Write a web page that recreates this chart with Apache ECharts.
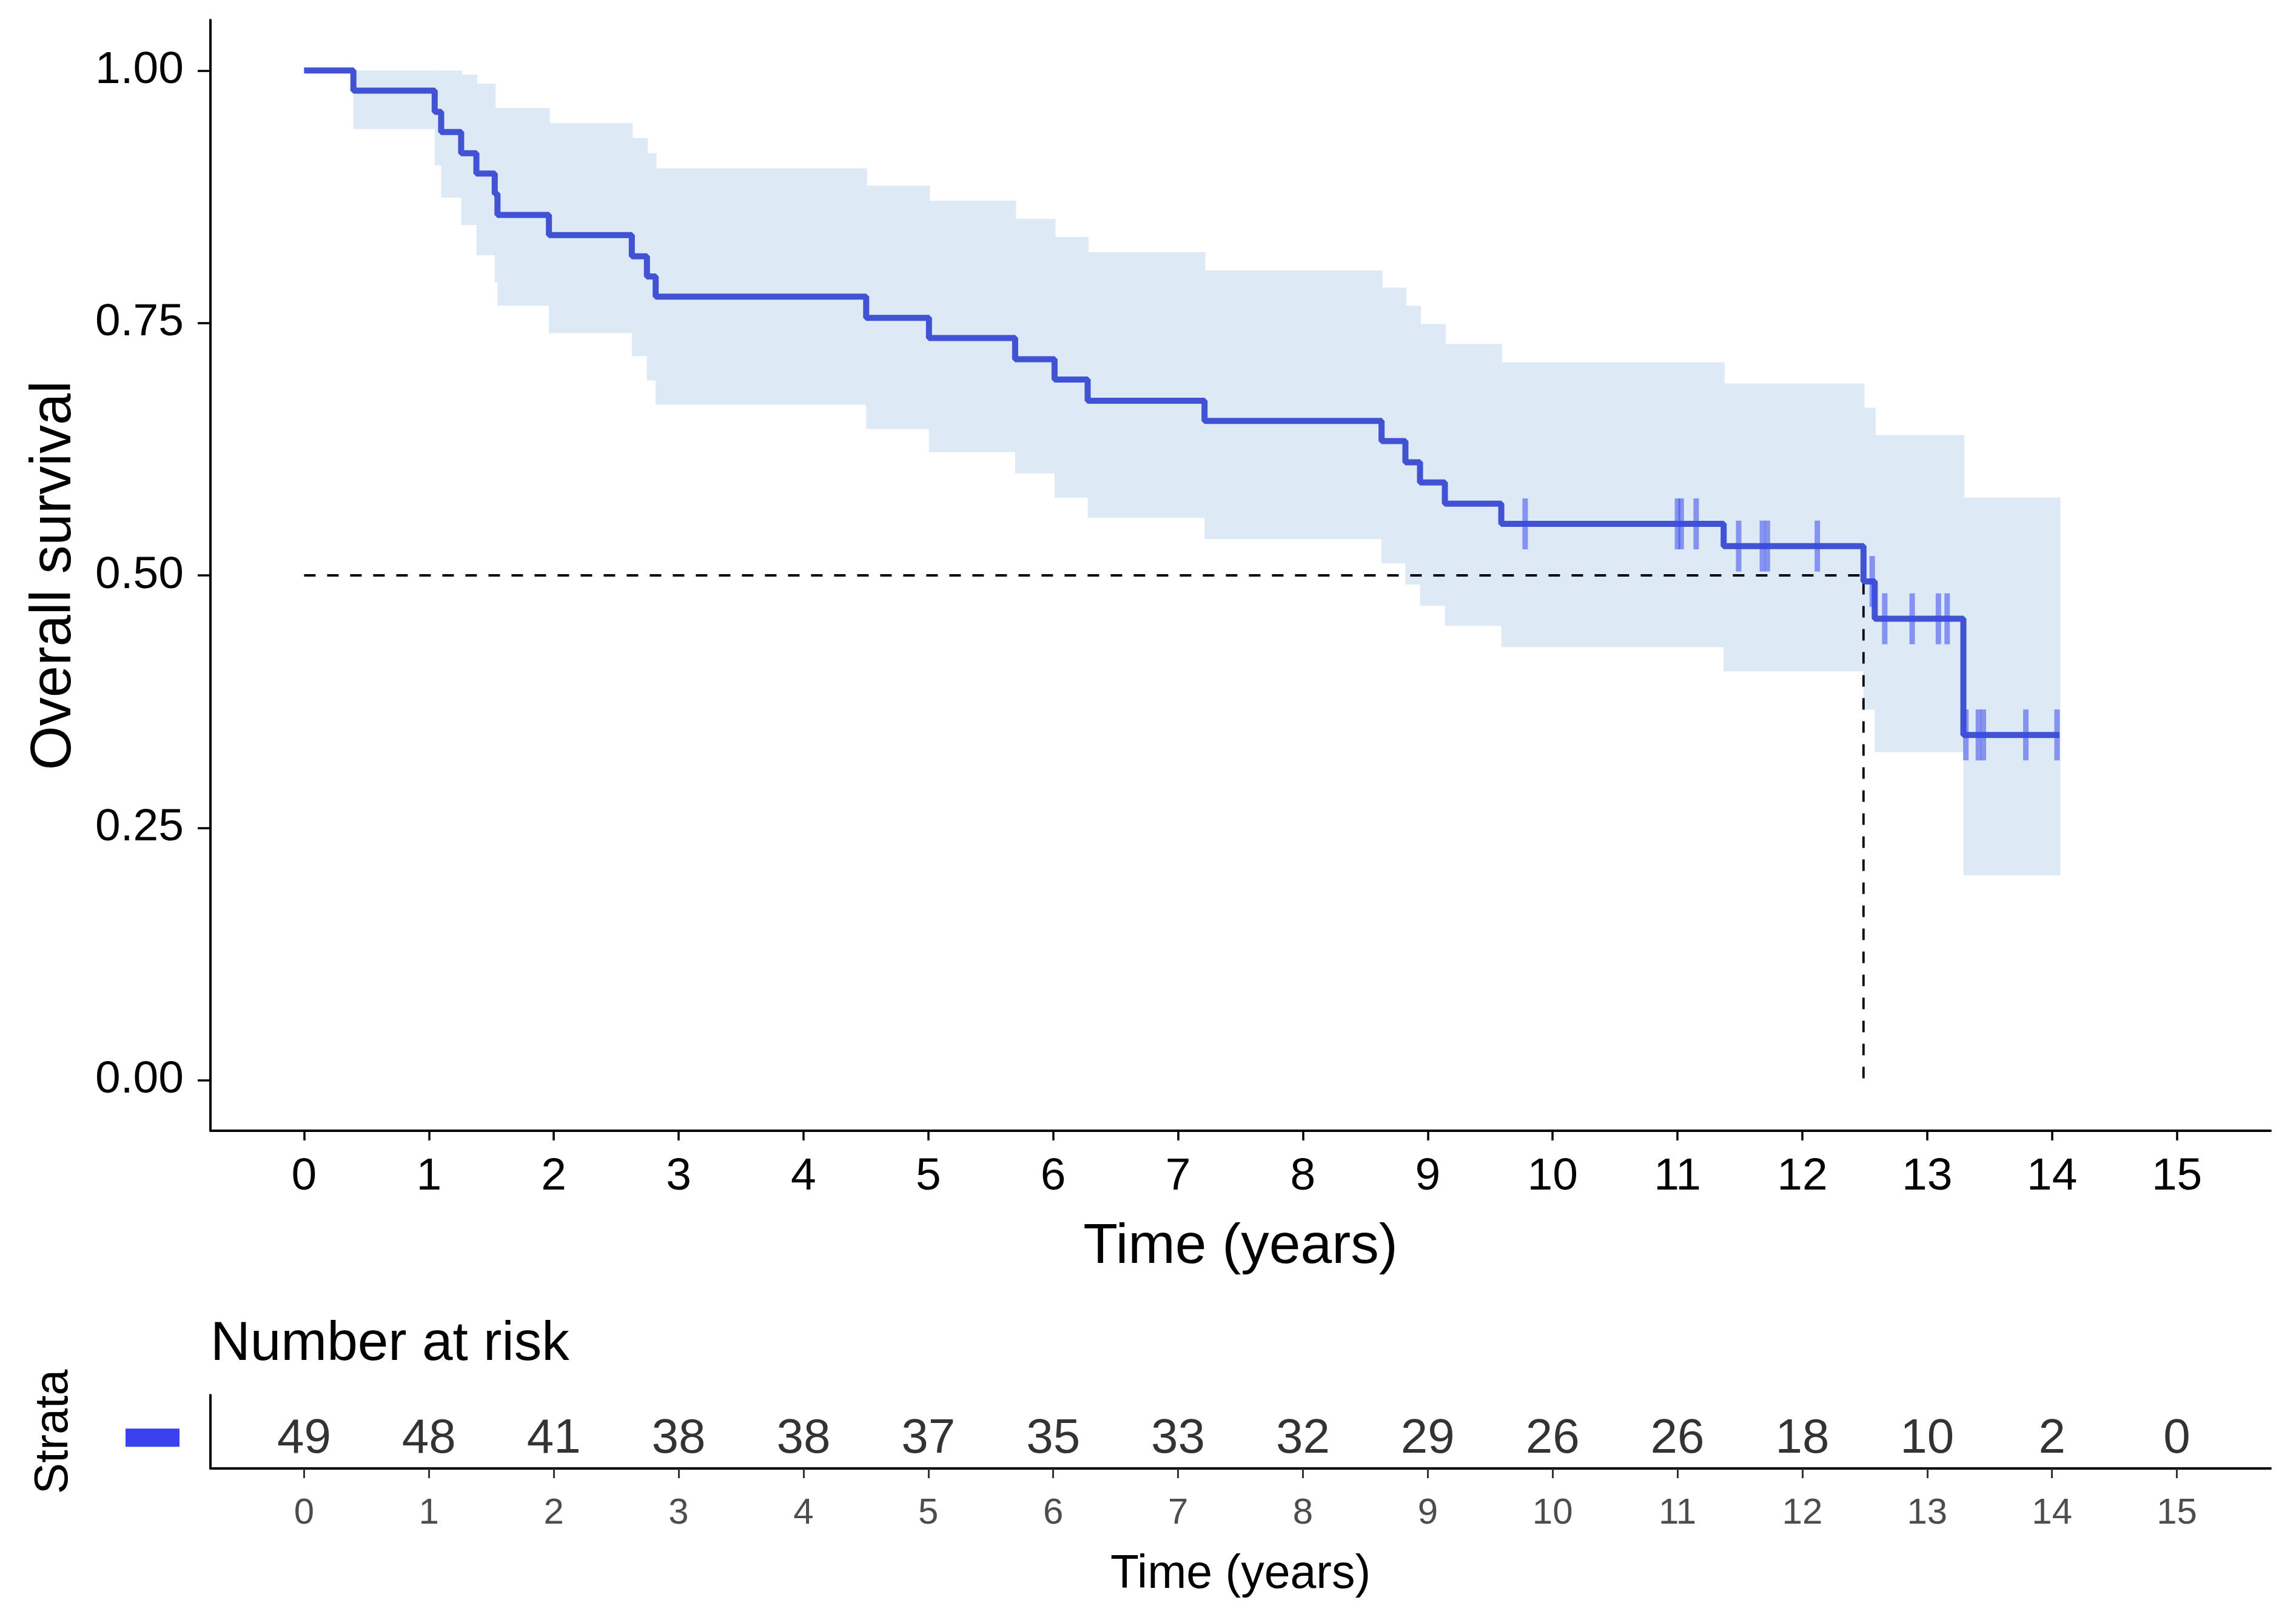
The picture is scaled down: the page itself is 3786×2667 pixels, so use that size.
<!DOCTYPE html>
<html>
<head>
<meta charset="utf-8">
<script src="https://cdn.jsdelivr.net/npm/echarts@6/dist/echarts.min.js"></script>
<style>
html,body{margin:0;padding:0;background:#fff;}
#chart{width:3786px;height:2667px;}
</style>
</head>
<body>
<div id="chart"></div>
<script>
// ---- data ----
const kmTime = [0, 0.395, 1.046, 1.098, 1.258, 1.380, 1.527, 1.549, 1.961, 2.625, 2.746, 2.816, 4.502, 5.005, 5.695, 6.011, 6.276, 7.212, 8.630, 8.821, 8.938, 9.137, 9.589, 11.37, 12.49, 12.58, 13.29, 14.06];
const kmSurv = [1.000, 0.980, 0.959, 0.939, 0.918, 0.898, 0.878, 0.857, 0.837, 0.816, 0.796, 0.776, 0.755, 0.735, 0.714, 0.694, 0.673, 0.653, 0.633, 0.612, 0.592, 0.571, 0.551, 0.529, 0.494, 0.457, 0.342, 0.342];
const ciUpper = [1.000, 1.000, 1.000, 1.000, 0.996, 0.987, 0.963, 0.963, 0.948, 0.933, 0.918, 0.903, 0.886, 0.871, 0.853, 0.835, 0.820, 0.802, 0.785, 0.767, 0.749, 0.729, 0.711, 0.690, 0.666, 0.639, 0.577, 0.577];
const ciLower = [1.000, 0.942, 0.906, 0.874, 0.847, 0.817, 0.790, 0.767, 0.740, 0.717, 0.693, 0.669, 0.645, 0.622, 0.601, 0.577, 0.557, 0.536, 0.512, 0.491, 0.470, 0.450, 0.429, 0.405, 0.367, 0.325, 0.203, 0.203];
const censorTime = [9.78, 11.00, 11.03, 11.15, 11.49, 11.68, 11.72, 12.12, 12.56, 12.66, 12.88, 13.09, 13.16, 13.31, 13.41, 13.45, 13.79, 14.04];
const censorSurv = [0.551, 0.551, 0.551, 0.551, 0.529, 0.529, 0.529, 0.529, 0.494, 0.457, 0.457, 0.457, 0.457, 0.342, 0.342, 0.342, 0.342, 0.342];
const medianTime = 12.49;
const medianSurv = 0.5;
const xTicks = [0,1,2,3,4,5,6,7,8,9,10,11,12,13,14,15];
const yTicks = [0, 0.25, 0.5, 0.75, 1.0];
const riskTimes = [0,1,2,3,4,5,6,7,8,9,10,11,12,13,14,15];
const riskCounts = [49,48,41,38,38,37,35,33,32,29,26,26,18,10,2,0];

// ---- styles ----
const FONT = '"Liberation Sans", Arial, Helvetica, sans-serif';
const lineColor = '#4152d2';
const bandColor = '#dde9f4';
const strataColor = '#3a42f0';

const kmData = kmTime.map((t, i) => [t, kmSurv[i]]);
const bandData = [];
for (let i = 1; i < kmTime.length - 1; i++) {
  bandData.push([kmTime[i], kmTime[i + 1], ciLower[i], ciUpper[i]]);
}
const censorData = censorTime.map((t, i) => [t, censorSurv[i]]);
const medianData = [[0, medianSurv], [medianTime, medianSurv], [medianTime, 0]];
const riskData = riskTimes.map((t, i) => [t, 0.40, riskCounts[i]]);

const chart = echarts.init(document.getElementById('chart'), null, {renderer: 'canvas', width: 3786, height: 2667, devicePixelRatio: 1});

const axisLineStyle = {color: '#000', width: 4};

const option = {
  animation: false,
  backgroundColor: '#ffffff',
  textStyle: {fontFamily: FONT},
  grid: [
    {left: 347, right: 42, top: 33, bottom: 802, containLabel: false},
    {left: 347, right: 42, top: 2301, bottom: 245, containLabel: false}
  ],
  xAxis: [
    {
      type: 'value', gridIndex: 0, min: -0.75, max: 15.75,
      name: 'Time (years)', nameLocation: 'middle', nameGap: 146,
      nameTextStyle: {fontSize: 93, color: '#000', fontFamily: FONT},
      axisLine: {show: true, onZero: false, lineStyle: axisLineStyle},
      axisTick: {show: true, customValues: xTicks, length: 16, lineStyle: {color: '#000', width: 3.5}},
      axisLabel: {show: true, customValues: xTicks, margin: 39, fontSize: 75, color: '#000', fontFamily: FONT},
      splitLine: {show: false}
    },
    {
      type: 'value', gridIndex: 1, min: -0.75, max: 15.75,
      name: 'Time (years)', nameLocation: 'middle', nameGap: 137,
      nameTextStyle: {fontSize: 77, color: '#000', fontFamily: FONT},
      axisLine: {show: true, onZero: false, lineStyle: axisLineStyle},
      axisTick: {show: true, customValues: xTicks, length: 16, lineStyle: {color: '#333', width: 3}},
      axisLabel: {show: true, customValues: xTicks, margin: 44, fontSize: 60, color: '#4d4d4d', fontFamily: FONT},
      splitLine: {show: false}
    }
  ],
  yAxis: [
    {
      type: 'value', gridIndex: 0, min: -0.05, max: 1.05,
      name: 'Overall survival', nameLocation: 'middle', nameGap: 210, nameRotate: 90,
      nameTextStyle: {fontSize: 94, color: '#000', fontFamily: FONT},
      axisLine: {show: true, onZero: false, lineStyle: axisLineStyle},
      axisTick: {show: true, customValues: yTicks, length: 21, lineStyle: {color: '#000', width: 3.5}},
      axisLabel: {show: true, customValues: yTicks, margin: 44, fontSize: 75, color: '#000', fontFamily: FONT,
        formatter: v => Number(v).toFixed(2)},
      splitLine: {show: false}
    },
    {
      type: 'value', gridIndex: 1, min: 0, max: 1,
      name: 'Strata', nameLocation: 'middle', nameGap: 219, nameRotate: 90,
      nameTextStyle: {fontSize: 77, color: '#000', fontFamily: FONT},
      axisLine: {show: true, onZero: false, lineStyle: axisLineStyle},
      axisTick: {show: false},
      axisLabel: {show: true, customValues: [0.42], margin: 51,
        formatter: () => '{box|}',
        rich: {box: {backgroundColor: strataColor, width: 89, height: 30}}},
      splitLine: {show: false}
    }
  ],
  graphic: [
    {type: 'text', left: 347, top: 2172, style: {text: 'Number at risk', fontSize: 91, fill: '#000', fontFamily: FONT}}
  ],
  series: [
    {
      name: 'CI', type: 'custom', xAxisIndex: 0, yAxisIndex: 0, z: 1,
      data: bandData,
      encode: {x: [0, 1], y: [2, 3]},
      renderItem: function (params, api) {
        const p0 = api.coord([api.value(0), api.value(3)]);
        const p1 = api.coord([api.value(1), api.value(2)]);
        return {
          type: 'rect',
          shape: {x: p0[0], y: p0[1], width: p1[0] - p0[0] + 1.5, height: p1[1] - p0[1]},
          style: {fill: bandColor}
        };
      },
      silent: true
    },
    {
      name: 'Median', type: 'line', xAxisIndex: 0, yAxisIndex: 0, z: 2,
      data: medianData, symbol: 'none',
      lineStyle: {color: '#000', width: 3.8, type: [19, 19]},
      silent: true
    },
    {
      name: 'Survival', type: 'line', step: 'end', xAxisIndex: 0, yAxisIndex: 0, z: 3,
      data: kmData, symbol: 'none',
      lineStyle: {color: lineColor, width: 10},
      silent: true
    },
    {
      name: 'Censored', type: 'scatter', xAxisIndex: 0, yAxisIndex: 0, z: 4,
      data: censorData, symbol: 'rect', symbolSize: [9, 84],
      itemStyle: {color: 'rgba(58,74,236,0.68)'},
      silent: true
    },
    {
      name: 'At risk', type: 'scatter', xAxisIndex: 1, yAxisIndex: 1, z: 4,
      data: riskData, symbolSize: 1,
      itemStyle: {color: 'rgba(0,0,0,0)'},
      label: {show: true, position: 'inside', formatter: p => String(p.data[2]), fontSize: 80, color: '#000', fontFamily: FONT},
      silent: true
    }
  ]
};
chart.setOption(option);
</script>
</body>
</html>
